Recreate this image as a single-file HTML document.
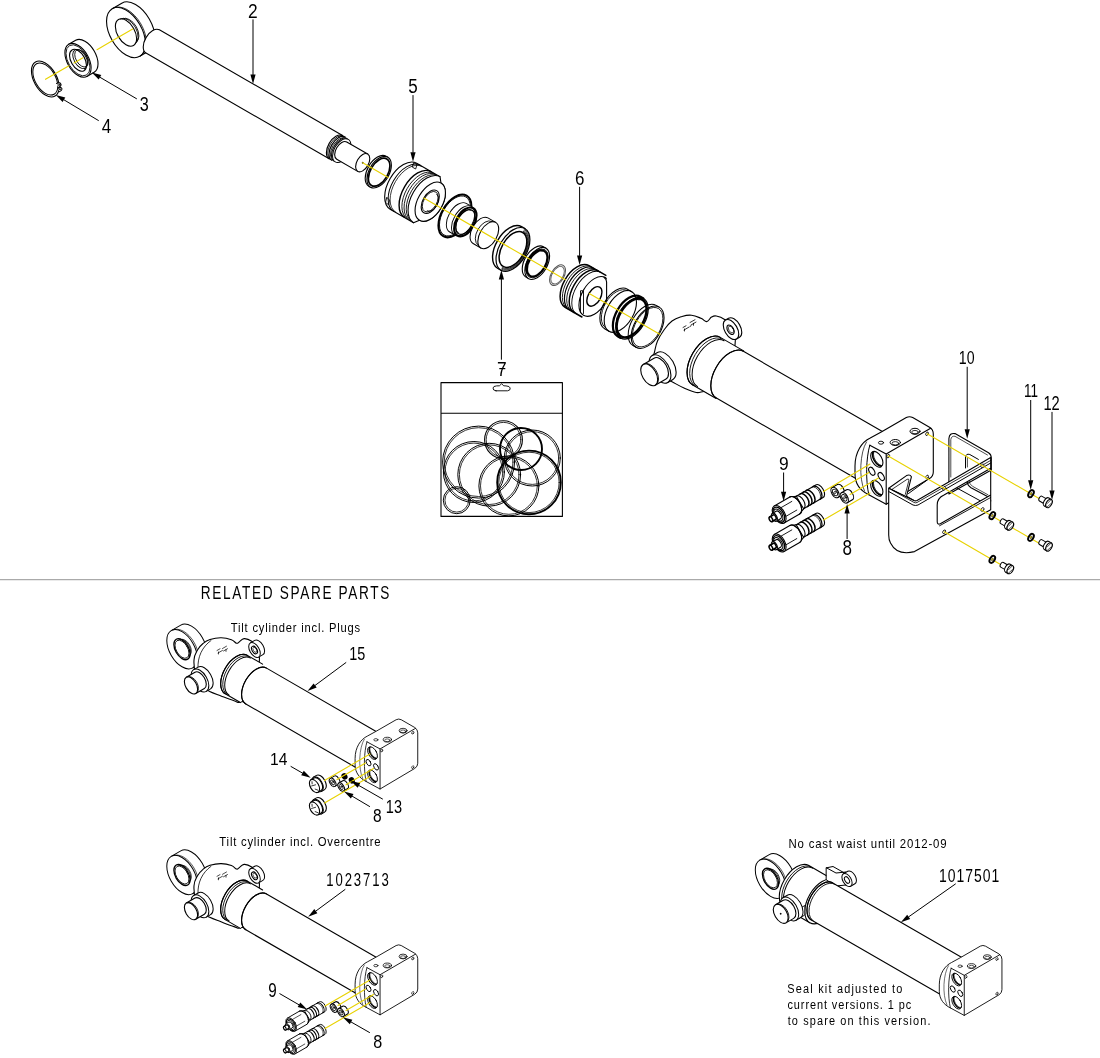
<!DOCTYPE html><html><head><meta charset="utf-8"><style>
html,body{margin:0;padding:0;background:#fff;overflow:hidden;}
svg{display:block;}
text{font-family:"Liberation Sans",sans-serif;fill:#000;}
svg{will-change:transform;}
</style></head><body>
<svg width="1100" height="1058" viewBox="0 0 1100 1058">
<rect width="1100" height="1058" fill="#fff"/>
<g stroke="#000" stroke-linejoin="round" stroke-linecap="round">
<line x1="0" y1="579.7" x2="1100" y2="579.7" stroke="#aaaaaa" stroke-width="1.3"/>
<g transform="translate(45.3 79) rotate(-30)">
<ellipse cx="0" cy="0" rx="11.3" ry="19.6" fill="none" stroke-width="1.1"/>
<ellipse cx="0" cy="0" rx="10.2" ry="17.6" fill="none" stroke-width="1.0"/>
<path d="M7.5 9.5Q11.5 9.5 11 12.5Q10 14.5 7 13.8" fill="#fff" stroke-width="1.0"/>
<circle cx="9" cy="11.8" r="0.9" fill="none" stroke-width="0.8"/>
<path d="M6.5 14.5Q10 14.5 9.5 17Q8.5 18.5 5.8 18" fill="#fff" stroke-width="1.0"/>
<circle cx="7.6" cy="16.2" r="0.9" fill="#000" stroke="none"/>
</g>
<g transform="translate(78 60.3) rotate(-30)">
<path d="M0 -18.5L8 -18.5A10.7 18.5 0 0 1 8 18.5L0 18.5Z" fill="#fff" stroke-width="1.1"/>
<ellipse cx="0" cy="0" rx="10.7" ry="18.5" fill="#fff" stroke-width="1.1"/>
<ellipse cx="0" cy="0" rx="9.8" ry="17" fill="none" stroke-width="0.8"/>
<ellipse cx="0" cy="0" rx="6.9" ry="12" fill="#fff" stroke-width="1.1"/>
<ellipse cx="2.5" cy="0" rx="6.1" ry="10.5" fill="none" stroke-width="0.9"/>
<ellipse cx="4" cy="0" rx="5.5" ry="9.5" fill="none" stroke-width="0.8"/>
</g>
<line x1="45.5" y1="79.3" x2="69" y2="65.8" stroke="#e8d200" stroke-width="1.1"/>
<line x1="74" y1="63" x2="83" y2="57.8" stroke="#e8d200" stroke-width="1.1"/>
<line x1="97" y1="49.7" x2="111" y2="41.6" stroke="#e8d200" stroke-width="1.1"/>
<g transform="translate(126 32.5) rotate(-30)">
<path d="M0 -27.5L11 -27.5A15.9 27.5 0 0 1 11 27.5L0 27.5Z" fill="#fff" stroke-width="1.1"/>
<ellipse cx="0" cy="0" rx="15.9" ry="27.5" fill="#fff" stroke-width="1.1"/>
<path d="M1.3 -27.3A15.9 27.3 0 0 1 1.3 27.3" fill="none" stroke-width="0.7"/>
<ellipse cx="0" cy="0" rx="8.7" ry="15" fill="#fff" stroke-width="1.1"/>
<path d="M2 -14.5A8.7 14.5 0 0 1 2 14.5" fill="none" stroke-width="0.8"/>
<path d="M4 -13.5A7.8 13.5 0 0 1 4 13.5" fill="none" stroke-width="0.8"/>
</g>
<g transform="translate(362.7 162.7) rotate(30)">
<path d="M-31 -13.4L-242.5 -13.4A7.7 13.4 0 0 0 -242.5 13.4L-31 13.4Z" fill="#fff" stroke="none"/>
<path d="M-31 -13.4L-242.5 -13.4A7.7 13.4 0 0 0 -242.5 13.4L-31 13.4" fill="none" stroke-width="1.1"/>
<path d="M-31 -13.4A7.7 13.4 0 0 0 -31 13.4" fill="none" stroke-width="1.1"/>
<path d="M-29.5 -13.6A7.8 13.6 0 0 0 -29.5 13.6" fill="none" stroke-width="0.8"/>
<path d="M-28 -13.4A7.7 13.4 0 0 0 -28 13.4" fill="none" stroke-width="1.2"/>
<path d="M-26.6 -13.1A7.6 13.1 0 0 0 -26.6 13.1" fill="none" stroke-width="0.8"/>
<path d="M-25.4 -13A7.5 13 0 0 0 -25.4 13" fill="none" stroke-width="1.0"/>
<ellipse cx="-24.2" cy="0" rx="7.5" ry="13" fill="#fff" stroke-width="1.0"/>
<path d="M0 -10L-24.2 -10A5.8 10 0 0 0 -24.2 10L0 10Z" fill="#fff" stroke-width="1.1"/>
<ellipse cx="0" cy="0" rx="5.8" ry="10" fill="#fff" stroke-width="1.1"/>
<circle cx="0" cy="0" r="0.9" fill="#000" stroke="none"/>
</g>
<line x1="111" y1="41.6" x2="132.7" y2="29.1" stroke="#e8d200" stroke-width="1.1"/>
<g transform="translate(362.7 162.7) rotate(30)">
<path d="M19 -17.3L17 -17.3A10 17.3 0 0 0 17 17.3L19 17.3Z" fill="#fff" stroke-width="1.1"/>
<ellipse cx="19" cy="0" rx="10" ry="17.3" fill="#fff" stroke-width="1.1"/>
<ellipse cx="19" cy="0" rx="8.8" ry="15.3" fill="none" stroke-width="1.7"/>
<path d="M74 -26.5L47 -26.5A15.3 26.5 0 0 0 47 26.5L74 26.5Z" fill="#fff" stroke="none"/>
<path d="M74 -26.5L47 -26.5A15.3 26.5 0 0 0 47 26.5L74 26.5" fill="none" stroke-width="1.1"/>
<path d="M44.5 -25.5L48 -25.5L49 -21L45.5 -21Z" fill="#fff" stroke-width="0.8"/>
<path d="M38.5 18L42 19L43.5 23.5L40 23Z" fill="#fff" stroke-width="0.8"/>
<path d="M51 -26.5A15.3 26.5 0 0 0 51 26.5" fill="none" stroke-width="1.0"/>
<path d="M53 -26.3A15.2 26.3 0 0 0 53 26.3" fill="none" stroke-width="0.7"/>
<path d="M63.5 -26.3A15.2 26.3 0 0 0 63.5 26.3" fill="none" stroke-width="1.4"/>
<path d="M66.5 -26.2A15.1 26.2 0 0 0 66.5 26.2" fill="none" stroke-width="0.8"/>
<path d="M69 -26.2A15.1 26.2 0 0 0 69 26.2" fill="none" stroke-width="0.8"/>
<path d="M71.5 -26.2A15.1 26.2 0 0 0 71.5 26.2" fill="none" stroke-width="0.8"/>
<path d="M74 -26.5L78 -21.5A12.4 21.5 0 0 1 78 21.5L74 26.5A15.3 26.5 0 0 1 74 -26.5Z" fill="#fff" stroke-width="1.1"/>
<ellipse cx="78" cy="0" rx="12.4" ry="21.5" fill="#fff" stroke-width="1.1"/>
<ellipse cx="78" cy="0" rx="7.4" ry="12.8" fill="#fff" stroke-width="1.1"/>
<ellipse cx="78" cy="0" rx="6.5" ry="11.2" fill="none" stroke-width="0.8"/>
<path d="M80 -9.5A5.5 9.5 0 0 1 80 9.5" fill="none" stroke-width="0.8"/>
</g>
<g transform="translate(362.7 162.7) rotate(30)">
<ellipse cx="106.5" cy="0" rx="13.5" ry="23.4" fill="none" stroke-width="2.0"/>
<ellipse cx="106.5" cy="0" rx="12.6" ry="21.9" fill="none" stroke-width="0.8"/>
<path d="M116 -16.5L110 -16.5A9.5 16.5 0 0 0 110 16.5L116 16.5Z" fill="#fff" stroke="none"/>
<path d="M116 -16.5L110 -16.5A9.5 16.5 0 0 0 110 16.5L116 16.5" fill="none" stroke-width="0.9"/>
<ellipse cx="116" cy="0" rx="9.5" ry="16.5" fill="#fff" stroke-width="0.9"/>
<ellipse cx="118.5" cy="0" rx="9.1" ry="15.8" fill="none" stroke-width="2.2"/>
<ellipse cx="118.5" cy="0" rx="7.8" ry="13.6" fill="none" stroke-width="1.2"/>
<path d="M118 -13A7.5 13 0 0 0 118 13" fill="none" stroke-width="0.7"/>
<path d="M145 -14.8L136 -14.8A8.5 14.8 0 0 0 136 14.8L145 14.8Z" fill="#fff" stroke="none"/>
<path d="M145 -14.8L136 -14.8A8.5 14.8 0 0 0 136 14.8L145 14.8" fill="none" stroke-width="1.0"/>
<ellipse cx="145" cy="0" rx="8.5" ry="14.8" fill="#fff" stroke-width="1.1"/>
<path d="M145 -13.6A7.8 13.6 0 0 0 145 13.6" fill="none" stroke-width="0.8" transform="translate(-4 0)"/>
<path d="M173.5 -24L169.5 -24A13.8 24 0 0 0 169.5 24L173.5 24Z" fill="#fff" stroke="none"/>
<path d="M173.5 -24L169.5 -24A13.8 24 0 0 0 169.5 24L173.5 24" fill="none" stroke-width="1.4"/>
<ellipse cx="173.5" cy="0" rx="13.8" ry="24" fill="#fff" stroke-width="1.2"/>
<path d="M173.5 -22.9A13.2 22.9 0 0 1 173.5 22.9" fill="none" stroke-width="0.7"/>
<path d="M173.5 -21.9A12.6 21.9 0 0 1 173.5 21.9" fill="none" stroke-width="0.7"/>
<path d="M173.5 -20.9A12.1 20.9 0 0 1 173.5 20.9" fill="none" stroke-width="0.7"/>
<ellipse cx="173.5" cy="0" rx="11.3" ry="19.6" fill="none" stroke-width="1.5"/>
<path d="M201.5 -17.5L198.5 -17.5A10.1 17.5 0 0 0 198.5 17.5L201.5 17.5Z" fill="#fff" stroke="none"/>
<path d="M201.5 -17.5L198.5 -17.5A10.1 17.5 0 0 0 198.5 17.5L201.5 17.5" fill="none" stroke-width="1.1"/>
<ellipse cx="201.5" cy="0" rx="10.1" ry="17.5" fill="#fff" stroke-width="1.1"/>
<ellipse cx="201.5" cy="0" rx="9.1" ry="15.8" fill="none" stroke-width="0.8"/>
<ellipse cx="201.5" cy="0" rx="8.3" ry="14.3" fill="#fff" stroke-width="2.0"/>
<path d="M199.5 -13.5A7.8 13.5 0 0 0 199.5 13.5" fill="none" stroke-width="1.6"/>
<ellipse cx="225" cy="0" rx="6.5" ry="11.3" fill="none" stroke="#555" stroke-width="1.0"/>
<ellipse cx="225" cy="0" rx="5.5" ry="9.6" fill="none" stroke="#555" stroke-width="0.9"/>
</g>
<g transform="translate(362.7 162.7) rotate(30)">
</g>
<clipPath id="p6clip"><rect x="540" y="250" width="66.8" height="80"/></clipPath>
<g clip-path="url(#p6clip)">
<g transform="translate(362.7 162.7) rotate(30)">
<path d="M267 -24L247.5 -24A13.8 24 0 0 0 247.5 24L267 24Z" fill="#fff" stroke="none"/>
<path d="M267 -24L247.5 -24A13.8 24 0 0 0 247.5 24L267 24" fill="none" stroke-width="1.5"/>
<path d="M250 -24A13.8 24 0 0 0 250 24" fill="none" stroke-width="0.8"/>
<path d="M252.5 -24A13.8 24 0 0 0 252.5 24" fill="none" stroke-width="1.2"/>
<path d="M255 -24A13.8 24 0 0 0 255 24" fill="none" stroke-width="0.8"/>
<path d="M258 -24A13.8 24 0 0 0 258 24" fill="none" stroke-width="1.5"/>
<path d="M261 -24A13.8 24 0 0 0 261 24" fill="none" stroke-width="0.9"/>
<ellipse cx="267.5" cy="0" rx="12.6" ry="21.8" fill="#fff" stroke-width="1.1"/>
<ellipse cx="267.5" cy="0" rx="6.2" ry="10.7" fill="#fff" stroke-width="1.4"/>
</g>
</g>
<path d="M604 277.2Q606.6 279 606.6 282L606.6 300" fill="none" stroke-width="1.1"/>
<path d="M580.5 291L580.5 312.5M583.5 291.5L583.5 313.5M580.5 291Q582 289.5 583.5 291.5" fill="none" stroke-width="0.9"/>
<g transform="translate(362.7 162.7) rotate(30)">
<path d="M297.5 -22.8L292.5 -22.8A13.2 22.8 0 0 0 292.5 22.8L297.5 22.8" fill="none" stroke-width="1.1"/>
<ellipse cx="297.5" cy="0" rx="13.2" ry="22.8" fill="none" stroke-width="1.1"/>
<path d="M293 -21.5A12.4 21.5 0 0 0 293 21.5" fill="none" stroke-width="0.8"/>
<path d="M311 -22.8L307.5 -22.8A13.2 22.8 0 0 0 307.5 22.8L311 22.8" fill="none" stroke-width="2.2"/>
<ellipse cx="311" cy="0" rx="13.2" ry="22.8" fill="none" stroke-width="1.3"/>
<ellipse cx="310.5" cy="0" rx="12.2" ry="21.2" fill="none" stroke-width="2.4"/>
<path d="M308 -19.5A11.2 19.5 0 0 0 308 19.5" fill="none" stroke-width="0.8"/>
<path d="M329 -23.2L325.5 -23.2A13.4 23.2 0 0 0 325.5 23.2L329 23.2" fill="none" stroke-width="1.0"/>
<ellipse cx="329" cy="0" rx="13.4" ry="23.2" fill="none" stroke-width="1.1"/>
<ellipse cx="329" cy="0" rx="12.5" ry="21.6" fill="none" stroke-width="0.8"/>
</g>
<path d="M652 362C650 357 653.1 357.4 654.2 353.2C655.3 349 655.5 345.6 657.5 341C659.5 336.4 661.1 334 664 330C666.9 326 668.4 323.7 672 321C675.6 318.3 678.1 317.7 682 316.5C685.9 315.3 687.7 314.8 691.5 315.2C695.3 315.6 697.9 317 701 318.3C704.1 319.6 704.7 321.8 706.8 321.6C708.9 321.4 709.6 318.2 711.5 317.1C713.4 316 713.7 315.5 716.3 316C718.9 316.5 721.3 317.1 724.6 319.5C727.9 321.9 730.9 322.9 733 328C735.1 333.1 736 333.6 735 345C734 356.4 732.6 375.2 728 385C723.4 394.8 716.7 392.7 712 394C707.3 395.3 707.7 391.8 704.5 391.5C701.3 391.2 700.3 393.2 696.2 392.5C692.1 391.8 688.8 390.1 684 388C679.2 385.9 676 383.8 672 381.8C668 379.8 668 382 664 378C660 374 654 367 652 362Z" fill="#fff" stroke-width="1.1"/>
<path d="M683 327.5l3 -1.7M684 330l5 -2.9M684.5 331l0 -2 M690 326.5l1 -0.6 M690 322.5l5 -2.8M691 325l5 -2.9M693.5 323.3l0 2" fill="none" stroke-width="0.8"/>
<g transform="translate(731 329.5) rotate(-30)">
<path d="M0 -11L3.5 -11A6.3 11 0 0 1 3.5 11L0 11Z" fill="#fff" stroke-width="1.1"/>
<ellipse cx="0" cy="0" rx="6.3" ry="11" fill="#fff" stroke-width="1.1"/>
<ellipse cx="-0.5" cy="0" rx="3" ry="5.2" fill="#fff" stroke-width="1.1"/>
<ellipse cx="0" cy="0" rx="2.2" ry="3.8" fill="none" stroke-width="0.7"/>
</g>
<g transform="translate(660 369) rotate(-30)">
<path d="M0 -15.5L6 -15.5A8.9 15.5 0 0 1 6 15.5L0 15.5Z" fill="#fff" stroke-width="1.1"/>
<ellipse cx="0" cy="0" rx="8.9" ry="15.5" fill="#fff" stroke-width="1.1"/>
</g>
<g transform="translate(649.2 374.8) rotate(-30)">
<path d="M0 -12L12.5 -12A6.9 12 0 0 1 12.5 12L0 12Z" fill="#fff" stroke-width="1.1"/>
<ellipse cx="0" cy="0" rx="6.9" ry="12" fill="#fff" stroke-width="1.1"/>
<path d="M1.3 -11.8A6.8 11.8 0 0 1 1.3 11.8" fill="none" stroke-width="0.8"/>
</g>
<g transform="translate(362.7 162.7) rotate(30)">
<path d="M424 -27.5L397 -27.5A15.9 27.5 0 0 0 397 27.5L424 27.5Z" fill="#fff" stroke="none"/>
<path d="M424 -27.5L397 -27.5A15.9 27.5 0 0 0 397 27.5L424 27.5" fill="none" stroke-width="1.1"/>
<path d="M397 -27.5A15.9 27.5 0 0 0 397 27.5" fill="none" stroke-width="1.1"/>
<path d="M399.5 -27A15.6 27 0 0 0 399.5 27" fill="none" stroke-width="0.8"/>
<path d="M402 -26.5A15.3 26.5 0 0 0 402 26.5" fill="none" stroke-width="1.0"/>
<path d="M592 -27L424 -27A15.6 27 0 0 0 424 27L592 27Z" fill="#fff" stroke="none"/>
<path d="M592 -27L424 -27A15.6 27 0 0 0 424 27L592 27" fill="none" stroke-width="1.1"/>
<path d="M424 -27A15.6 27 0 0 0 424 27" fill="none" stroke-width="1.0"/>
</g>
<g>
<path d="M881.7 431.8L906.3 417.6Q909.5 415.9 912.7 417.6L929.5 427.3Q933.3 429.5 933.3 434L933.3 472Q933.3 476.3 929.5 478.5L886.2 504.2L868.8 494.8C861 491 855 484 855 474L855 466C855 452 862 442 869.8 438.3Z" fill="#fff" stroke-width="1.1"/>
<path d="M869.8 445.2L886.2 454.1L930.6 428.3M886.2 454.1L886.2 504.2" fill="none" stroke-width="1.1"/>
<path d="M869.8 445.2C866 458 865.5 480 868.8 494.8" fill="none" stroke-width="1.0"/>
<path d="M866.5 442C860 452 858.5 478 864.5 491" fill="none" stroke-width="0.7"/>
<ellipse cx="876.8" cy="459.3" rx="5" ry="8.7" transform="rotate(-30 876.8 459.3)" fill="#fff" stroke-width="1.1"/>
<ellipse cx="876.8" cy="488.3" rx="5" ry="8.7" transform="rotate(-30 876.8 488.3)" fill="#fff" stroke-width="1.1"/>
<ellipse cx="871.8" cy="471.2" rx="2.5" ry="4.4" transform="rotate(-30 871.8 471.2)" fill="#fff" stroke-width="1.1"/>
<ellipse cx="881.2" cy="476.5" rx="2.5" ry="4.4" transform="rotate(-30 881.2 476.5)" fill="#fff" stroke-width="1.1"/>
<clipPath id="ph0"><ellipse cx="876.8" cy="459.3" rx="5" ry="8.7" transform="rotate(-30 876.8 459.3)"/></clipPath>
<g clip-path="url(#ph0)"><ellipse cx="878.6999999999999" cy="458.2" rx="5" ry="8.7" transform="rotate(-30 878.6999999999999 458.2)" fill="none" stroke-width="1.6"/><ellipse cx="879.5999999999999" cy="457.7" rx="5" ry="8.7" transform="rotate(-30 879.5999999999999 457.7)" fill="none" stroke-width="0.7"/></g>
<clipPath id="ph1"><ellipse cx="876.8" cy="488.3" rx="5" ry="8.7" transform="rotate(-30 876.8 488.3)"/></clipPath>
<g clip-path="url(#ph1)"><ellipse cx="878.6999999999999" cy="487.2" rx="5" ry="8.7" transform="rotate(-30 878.6999999999999 487.2)" fill="none" stroke-width="1.6"/><ellipse cx="879.5999999999999" cy="486.7" rx="5" ry="8.7" transform="rotate(-30 879.5999999999999 486.7)" fill="none" stroke-width="0.7"/></g>
<ellipse cx="881" cy="442.7" rx="2.6" ry="1.5" fill="#fff" stroke-width="0.9"/>
<ellipse cx="895.3" cy="442.5" rx="5.2" ry="3" fill="#fff" stroke-width="1.0"/><ellipse cx="895.3" cy="443.3" rx="3.4" ry="1.7" fill="none" stroke-width="0.8"/>
<ellipse cx="915" cy="431.3" rx="5.0" ry="3" fill="#fff" stroke-width="1.0"/><ellipse cx="915" cy="432.1" rx="3.3" ry="1.7" fill="none" stroke-width="0.8"/>
<ellipse cx="888.2" cy="456.1" rx="1.2" ry="1.9" transform="rotate(30 888.2 456.1)" fill="#fff" stroke-width="0.8"/>
<ellipse cx="927.1" cy="433.8" rx="1.2" ry="1.9" transform="rotate(30 927.1 433.8)" fill="#fff" stroke-width="0.8"/>
<ellipse cx="927.1" cy="476.9" rx="1.2" ry="1.9" transform="rotate(30 927.1 476.9)" fill="#fff" stroke-width="0.8"/>
</g>
<path d="M948.9 478L948.9 438.5Q949.5 432.5 955 433.6L988.5 452.8Q991.3 454.5 991.3 458L991.3 470L948.9 494Z" fill="#fff" stroke-width="1.1"/>
<path d="M950.8 477L950.8 439.5Q951.5 435.6 955 436.3L987.5 455" fill="none" stroke-width="0.7"/>
<path d="M965.5 468L965.5 457Q966 453.3 969.8 454.5L978.4 459.4" fill="none" stroke-width="1.0"/>
<path d="M967.4 467L967.4 457.5" fill="none" stroke-width="0.7"/>
<path d="M966.7 480.9Q967.5 485.5 971 487.7L987.5 496.5Q990.7 498.5 990.7 501" fill="none" stroke-width="1.1"/>
<path d="M968.8 480.3Q969.5 484.5 972.5 486.3L988 494.8" fill="none" stroke-width="0.7"/>
<path d="M956.3 487.7L982.1 501.8" fill="none" stroke-width="1.0"/>
<path d="M908.5 493.5L926.5 480.5" fill="none" stroke-width="1.0"/>
<path d="M888.7 488.3L906.5 475.6Q910 474 911.4 476.8L906.5 496.3L913.9 500.6Z" fill="#fff" stroke-width="1.1"/>
<path d="M891.8 489.5L907.1 479.3Q908.8 478.6 909 480L905.3 494.4" fill="none" stroke-width="0.8"/>
<path fill-rule="evenodd" d="M888.7 488.3L913.9 500.6Q915.5 501.2 917 500.5L990.7 457.6L990.7 509.8L914.5 551.6Q897 556 890.5 543Q888.7 540 888.7 535Z M944 495L990.7 468.3L990.7 495.1L940.3 523.8Q937.2 525 937.2 521.5L937.2 505Q937.2 498 944 495Z" fill="#fff" stroke-width="1.1"/>
<path d="M891.8 489.9L913.9 502.4Q915.5 503.2 917 502.5L990.7 460.4" fill="none" stroke-width="0.8"/>
<path d="M888.7 491.5L913 505Q915.5 506 918 505L990.7 463" fill="none" stroke-width="1.0"/>
<path d="M939.5 525.8L990.7 497.5" fill="none" stroke-width="0.9"/>
<ellipse cx="944.2" cy="488.4" rx="1.3" ry="2.0" transform="rotate(30 944.2 488.4)" fill="#fff" stroke-width="0.8"/>
<ellipse cx="982.5" cy="465.8" rx="1.3" ry="2.0" transform="rotate(30 982.5 465.8)" fill="#fff" stroke-width="0.8"/>
<ellipse cx="982.5" cy="509.5" rx="1.3" ry="2.0" transform="rotate(30 982.5 509.5)" fill="#fff" stroke-width="0.8"/>
<ellipse cx="944.2" cy="531.8" rx="1.3" ry="2.0" transform="rotate(30 944.2 531.8)" fill="#fff" stroke-width="0.8"/>
<line x1="927.1" y1="433.8" x2="1042.5" y2="500.5" stroke="#e8d200" stroke-width="1.1"/>
<line x1="888.2" y1="456.1" x2="1042.5" y2="545.2" stroke="#e8d200" stroke-width="1.1"/>
<line x1="944.2" y1="531.8" x2="1004" y2="566.4" stroke="#e8d200" stroke-width="1.1"/>
<ellipse cx="1031" cy="493.7" rx="2.3" ry="3.9" transform="rotate(30 1031 493.7)" fill="#fff" stroke-width="1.9"/>
<ellipse cx="1031" cy="493.7" rx="0.9" ry="1.5" transform="rotate(30 1031 493.7)" fill="#e8d200" stroke="#333" stroke-width="0.5"/>
<g transform="translate(1049 503.4) rotate(30)">
<path d="M-2.5 -2.7L-9.5 -2.7A1.6 2.7 0 0 0 -9.5 2.7L-2.5 2.7Z" fill="#fff" stroke="none"/>
<path d="M-2.5 -2.7L-9.5 -2.7A1.6 2.7 0 0 0 -9.5 2.7L-2.5 2.7" fill="none" stroke-width="1.0"/>
<path d="M-2.5 -2.7L-2.5 2.7" fill="none" stroke-width="0.8"/>
<path d="M0 -4.6L-2.8 -4.6A2.7 4.6 0 0 0 -2.8 4.6L0 4.6Z" fill="#fff" stroke-width="1.1"/>
<ellipse cx="0" cy="0" rx="2.7" ry="4.6" fill="#fff" stroke-width="1.1"/>
<path d="M0 -4.6L-1.5 1M0 4.6L1.8 -1" fill="none" stroke-width="0.6"/>
</g>
<ellipse cx="992.3" cy="515.6" rx="2.3" ry="3.9" transform="rotate(30 992.3 515.6)" fill="#fff" stroke-width="1.9"/>
<ellipse cx="992.3" cy="515.6" rx="0.9" ry="1.5" transform="rotate(30 992.3 515.6)" fill="#e8d200" stroke="#333" stroke-width="0.5"/>
<g transform="translate(1010.3 526.1) rotate(30)">
<path d="M-2.5 -2.7L-9.5 -2.7A1.6 2.7 0 0 0 -9.5 2.7L-2.5 2.7Z" fill="#fff" stroke="none"/>
<path d="M-2.5 -2.7L-9.5 -2.7A1.6 2.7 0 0 0 -9.5 2.7L-2.5 2.7" fill="none" stroke-width="1.0"/>
<path d="M-2.5 -2.7L-2.5 2.7" fill="none" stroke-width="0.8"/>
<path d="M0 -4.6L-2.8 -4.6A2.7 4.6 0 0 0 -2.8 4.6L0 4.6Z" fill="#fff" stroke-width="1.1"/>
<ellipse cx="0" cy="0" rx="2.7" ry="4.6" fill="#fff" stroke-width="1.1"/>
<path d="M0 -4.6L-1.5 1M0 4.6L1.8 -1" fill="none" stroke-width="0.6"/>
</g>
<ellipse cx="1031" cy="537.4" rx="2.3" ry="3.9" transform="rotate(30 1031 537.4)" fill="#fff" stroke-width="1.9"/>
<ellipse cx="1031" cy="537.4" rx="0.9" ry="1.5" transform="rotate(30 1031 537.4)" fill="#e8d200" stroke="#333" stroke-width="0.5"/>
<g transform="translate(1049 546.9) rotate(30)">
<path d="M-2.5 -2.7L-9.5 -2.7A1.6 2.7 0 0 0 -9.5 2.7L-2.5 2.7Z" fill="#fff" stroke="none"/>
<path d="M-2.5 -2.7L-9.5 -2.7A1.6 2.7 0 0 0 -9.5 2.7L-2.5 2.7" fill="none" stroke-width="1.0"/>
<path d="M-2.5 -2.7L-2.5 2.7" fill="none" stroke-width="0.8"/>
<path d="M0 -4.6L-2.8 -4.6A2.7 4.6 0 0 0 -2.8 4.6L0 4.6Z" fill="#fff" stroke-width="1.1"/>
<ellipse cx="0" cy="0" rx="2.7" ry="4.6" fill="#fff" stroke-width="1.1"/>
<path d="M0 -4.6L-1.5 1M0 4.6L1.8 -1" fill="none" stroke-width="0.6"/>
</g>
<ellipse cx="992.3" cy="559.4" rx="2.3" ry="3.9" transform="rotate(30 992.3 559.4)" fill="#fff" stroke-width="1.9"/>
<ellipse cx="992.3" cy="559.4" rx="0.9" ry="1.5" transform="rotate(30 992.3 559.4)" fill="#e8d200" stroke="#333" stroke-width="0.5"/>
<g transform="translate(1010.3 569.6) rotate(30)">
<path d="M-2.5 -2.7L-9.5 -2.7A1.6 2.7 0 0 0 -9.5 2.7L-2.5 2.7Z" fill="#fff" stroke="none"/>
<path d="M-2.5 -2.7L-9.5 -2.7A1.6 2.7 0 0 0 -9.5 2.7L-2.5 2.7" fill="none" stroke-width="1.0"/>
<path d="M-2.5 -2.7L-2.5 2.7" fill="none" stroke-width="0.8"/>
<path d="M0 -4.6L-2.8 -4.6A2.7 4.6 0 0 0 -2.8 4.6L0 4.6Z" fill="#fff" stroke-width="1.1"/>
<ellipse cx="0" cy="0" rx="2.7" ry="4.6" fill="#fff" stroke-width="1.1"/>
<path d="M0 -4.6L-1.5 1M0 4.6L1.8 -1" fill="none" stroke-width="0.6"/>
</g>
<g transform="translate(770.5 519.5) rotate(-30)">
<path d="M33 -7.3L56.5 -7.3A4.2 7.3 0 0 1 56.5 7.3L33 7.3Z" fill="#fff" stroke="none"/>
<path d="M33 -7.3L56.5 -7.3A4.2 7.3 0 0 1 56.5 7.3L33 7.3" fill="none" stroke-width="1.1"/>
<path d="M53.5 -7.3A4.2 7.3 0 0 1 53.5 7.3" fill="none" stroke-width="1.3"/>
<path d="M52 -7.3A4.2 7.3 0 0 1 52 7.3" fill="none" stroke-width="0.7"/>
<path d="M45.5 -7.3A4.2 7.3 0 0 1 45.5 7.3" fill="none" stroke-width="1.5"/>
<path d="M42 -7.3A4.2 7.3 0 0 1 42 7.3" fill="none" stroke-width="1.5"/>
<path d="M38.5 -7.3A4.2 7.3 0 0 1 38.5 7.3" fill="none" stroke-width="1.5"/>
<path d="M28 -9.8L34 -7.3L34 7.3L28 9.8Z" fill="#fff" stroke-width="1.0"/>
<path d="M34 -7.3A4.2 7.3 0 0 1 34 7.3" fill="none" stroke-width="1.1"/>
<path d="M10 -9.8L28 -9.8A5.7 9.8 0 0 1 28 9.8L10 9.8Z" fill="#fff" stroke="none"/>
<path d="M10 -9.8L28 -9.8A5.7 9.8 0 0 1 28 9.8L10 9.8" fill="none" stroke-width="1.1"/>
<path d="M10 -5L27.5 -5M10 5L27.5 5" fill="none" stroke-width="0.8"/>
<path d="M28 -9.8A5.7 9.8 0 0 1 28 9.8" fill="none" stroke-width="1.0"/>
<ellipse cx="10" cy="0" rx="5.7" ry="9.8" fill="#fff" stroke-width="1.1"/>
<ellipse cx="9.6" cy="0" rx="4.8" ry="8.3" fill="none" stroke-width="1.4"/>
<ellipse cx="9" cy="0" rx="3.8" ry="6.6" fill="#fff" stroke-width="1.0"/>
<path d="M4.5 -4.4L9 -4.4A2.5 4.4 0 0 1 9 4.4L4.5 4.4Z" fill="#fff" stroke-width="1.1"/>
<ellipse cx="4.5" cy="0" rx="2.5" ry="4.4" fill="#fff" stroke-width="1.1"/>
<path d="M4.5 -2.2L4.5 2.2" fill="none" stroke-width="0.6"/>
<path d="M0.5 -2.6L4.5 -2.6A1.5 2.6 0 0 1 4.5 2.6L0.5 2.6Z" fill="#fff" stroke-width="1.5"/>
<ellipse cx="0.5" cy="0" rx="1.5" ry="2.6" fill="#fff" stroke-width="1.5"/>
</g>
<g transform="translate(770.5 548) rotate(-30)">
<path d="M33 -7.3L56.5 -7.3A4.2 7.3 0 0 1 56.5 7.3L33 7.3Z" fill="#fff" stroke="none"/>
<path d="M33 -7.3L56.5 -7.3A4.2 7.3 0 0 1 56.5 7.3L33 7.3" fill="none" stroke-width="1.1"/>
<path d="M53.5 -7.3A4.2 7.3 0 0 1 53.5 7.3" fill="none" stroke-width="1.3"/>
<path d="M52 -7.3A4.2 7.3 0 0 1 52 7.3" fill="none" stroke-width="0.7"/>
<path d="M45.5 -7.3A4.2 7.3 0 0 1 45.5 7.3" fill="none" stroke-width="1.5"/>
<path d="M42 -7.3A4.2 7.3 0 0 1 42 7.3" fill="none" stroke-width="1.5"/>
<path d="M38.5 -7.3A4.2 7.3 0 0 1 38.5 7.3" fill="none" stroke-width="1.5"/>
<path d="M28 -9.8L34 -7.3L34 7.3L28 9.8Z" fill="#fff" stroke-width="1.0"/>
<path d="M34 -7.3A4.2 7.3 0 0 1 34 7.3" fill="none" stroke-width="1.1"/>
<path d="M10 -9.8L28 -9.8A5.7 9.8 0 0 1 28 9.8L10 9.8Z" fill="#fff" stroke="none"/>
<path d="M10 -9.8L28 -9.8A5.7 9.8 0 0 1 28 9.8L10 9.8" fill="none" stroke-width="1.1"/>
<path d="M10 -5L27.5 -5M10 5L27.5 5" fill="none" stroke-width="0.8"/>
<path d="M28 -9.8A5.7 9.8 0 0 1 28 9.8" fill="none" stroke-width="1.0"/>
<ellipse cx="10" cy="0" rx="5.7" ry="9.8" fill="#fff" stroke-width="1.1"/>
<ellipse cx="9.6" cy="0" rx="4.8" ry="8.3" fill="none" stroke-width="1.4"/>
<ellipse cx="9" cy="0" rx="3.8" ry="6.6" fill="#fff" stroke-width="1.0"/>
<path d="M4.5 -4.4L9 -4.4A2.5 4.4 0 0 1 9 4.4L4.5 4.4Z" fill="#fff" stroke-width="1.1"/>
<ellipse cx="4.5" cy="0" rx="2.5" ry="4.4" fill="#fff" stroke-width="1.1"/>
<path d="M4.5 -2.2L4.5 2.2" fill="none" stroke-width="0.6"/>
<path d="M0.5 -2.6L4.5 -2.6A1.5 2.6 0 0 1 4.5 2.6L0.5 2.6Z" fill="#fff" stroke-width="1.5"/>
<ellipse cx="0.5" cy="0" rx="1.5" ry="2.6" fill="#fff" stroke-width="1.5"/>
</g>
<g transform="translate(835 492.5) rotate(-30)">
<path d="M0 -5.8L6 -5.8A3.3 5.8 0 0 1 6 5.8L0 5.8Z" fill="#fff" stroke-width="1.1"/>
<ellipse cx="0" cy="0" rx="3.3" ry="5.8" fill="#fff" stroke-width="1.1"/>
<ellipse cx="0" cy="0" rx="2.1" ry="3.6" fill="none" stroke-width="0.9"/>
<circle cx="0" cy="0" r="1.1" fill="none" stroke-width="0.7"/>
</g>
<g transform="translate(844.3 497.8) rotate(-30)">
<path d="M0 -5.8L6 -5.8A3.3 5.8 0 0 1 6 5.8L0 5.8Z" fill="#fff" stroke-width="1.1"/>
<ellipse cx="0" cy="0" rx="3.3" ry="5.8" fill="#fff" stroke-width="1.1"/>
<ellipse cx="0" cy="0" rx="2.1" ry="3.6" fill="none" stroke-width="0.9"/>
<circle cx="0" cy="0" r="1.1" fill="none" stroke-width="0.7"/>
</g>
<line x1="823.5" y1="491.5" x2="870" y2="464" stroke="#e8d200" stroke-width="1.1"/>
<line x1="840.5" y1="489" x2="869" y2="472.5" stroke="#e8d200" stroke-width="1.1"/>
<line x1="850" y1="494.5" x2="878.5" y2="478" stroke="#e8d200" stroke-width="1.1"/>
<line x1="823.5" y1="520" x2="870" y2="493" stroke="#e8d200" stroke-width="1.1"/>
<g transform="translate(362.7 162.7) rotate(30)">
<line x1="0" y1="0" x2="29.5" y2="0" stroke="#e8d200" stroke-width="1.1"/>
<line x1="70.5" y1="0" x2="234" y2="0" stroke="#e8d200" stroke-width="1.1"/>
<line x1="261.6" y1="0" x2="343.5" y2="0" stroke="#e8d200" stroke-width="1.1"/>
</g>
<rect x="441" y="382.6" width="121.4" height="133.8" fill="#fff" stroke-width="1.1"/>
<line x1="441.5" y1="413.3" x2="562" y2="413.3" stroke="#000" stroke-width="1.1"/>
<path d="M496 390.8L507.5 390.8Q510.5 390.6 510.2 388Q509.8 386.1 506 385.9L503.8 385.8L501.6 383.8L499.4 385.8L496.5 385.9Q493.2 386.1 493 388Q492.8 390.6 496 390.8Z" fill="none" stroke-width="0.9"/>
<circle cx="456.8" cy="500.2" r="13.5" fill="none" stroke-width="1.0"/>
<circle cx="456.8" cy="500.2" r="11.9" fill="none" stroke-width="0.8"/>
<circle cx="478.6" cy="462.1" r="36" fill="none" stroke-width="1.0"/>
<circle cx="478.6" cy="462.1" r="34.4" fill="none" stroke-width="0.8"/>
<circle cx="473.9" cy="472" r="30.5" fill="none" stroke-width="1.0"/>
<circle cx="473.9" cy="472" r="28.9" fill="none" stroke-width="0.8"/>
<circle cx="489.2" cy="474.7" r="31.4" fill="none" stroke-width="1.0"/>
<circle cx="489.2" cy="474.7" r="29.799999999999997" fill="none" stroke-width="0.8"/>
<circle cx="508.9" cy="485.9" r="30" fill="none" stroke-width="1.0"/>
<circle cx="508.9" cy="485.9" r="28.4" fill="none" stroke-width="0.8"/>
<circle cx="532.3" cy="458" r="28" fill="none" stroke-width="1.0"/>
<circle cx="532.3" cy="458" r="26.4" fill="none" stroke-width="0.8"/>
<circle cx="503.5" cy="439.7" r="18.9" fill="none" stroke-width="1.1"/>
<circle cx="503.5" cy="439.7" r="17.299999999999997" fill="none" stroke-width="0.8"/>
<circle cx="521" cy="449" r="21" fill="none" stroke-width="1.9"/>
<circle cx="529" cy="482.4" r="31.8" fill="none" stroke-width="1.9"/>
<circle cx="529" cy="482.4" r="30.2" fill="none" stroke-width="0.8"/>
</g>
<g>
<text transform="translate(248.03 18.00) scale(0.1739 0.2100)" font-size="100">2</text>
<text transform="translate(139.75 110.70) scale(0.1617 0.2029)" font-size="100">3</text>
<text transform="translate(101.86 133.10) scale(0.1706 0.1943)" font-size="100">4</text>
<text transform="translate(408.22 93.20) scale(0.1702 0.2029)" font-size="100">5</text>
<text transform="translate(574.95 185.00) scale(0.1696 0.2086)" font-size="100">6</text>
<text transform="translate(496.93 375.80) scale(0.1739 0.1971)" font-size="100">7</text>
<line x1="499.3" y1="368.6" x2="505.3" y2="368.6" stroke="#000" stroke-width="1.2"/>
<text transform="translate(958.87 363.80) scale(0.1414 0.1829)" font-size="100">10</text>
<text transform="translate(1023.92 397.00) scale(0.1352 0.1829)" font-size="100">11</text>
<text transform="translate(1043.42 409.70) scale(0.1469 0.1943)" font-size="100">12</text>
<text transform="translate(778.93 470.00) scale(0.1739 0.1857)" font-size="100">9</text>
<text transform="translate(842.62 555.10) scale(0.1702 0.2186)" font-size="100">8</text>
<text transform="translate(200.71 599.40) scale(0.1364 0.1843)" font-size="100" letter-spacing="12.17">RELATED SPARE PARTS</text>
<text transform="translate(230.78 631.90) scale(0.1117 0.1314)" font-size="100" letter-spacing="7.24">Tilt cylinder incl. Plugs</text>
<text transform="translate(349.24 660.00) scale(0.1444 0.1829)" font-size="100">15</text>
<text transform="translate(270.05 765.00) scale(0.1560 0.1729)" font-size="100">14</text>
<text transform="translate(385.84 812.60) scale(0.1455 0.1843)" font-size="100">13</text>
<text transform="translate(373.08 821.70) scale(0.1553 0.1843)" font-size="100">8</text>
<text transform="translate(219.37 846.00) scale(0.1129 0.1329)" font-size="100" letter-spacing="6.81">Tilt cylinder incl. Overcentre</text>
<text transform="translate(326.25 885.50) scale(0.1311 0.1771)" font-size="100" letter-spacing="14.60">1023713</text>
<text transform="translate(268.24 996.90) scale(0.1522 0.2000)" font-size="100">9</text>
<text transform="translate(373.35 1047.80) scale(0.1617 0.1814)" font-size="100">8</text>
<text transform="translate(788.49 847.80) scale(0.1141 0.1343)" font-size="100" letter-spacing="7.14">No cast waist until 2012-09</text>
<text transform="translate(938.88 881.90) scale(0.1395 0.1886)" font-size="100" letter-spacing="7.20">1017501</text>
<text transform="translate(787.35 992.90) scale(0.1093 0.1286)" font-size="100" letter-spacing="10.90">Seal kit adjusted to</text>
<text transform="translate(787.46 1009.00) scale(0.1093 0.1286)" font-size="100" letter-spacing="8.40">current versions. 1 pc</text>
<text transform="translate(787.68 1025.30) scale(0.1093 0.1286)" font-size="100" letter-spacing="10.27">to spare on this version.</text>
</g>
<g stroke="#000" stroke-linejoin="round" stroke-linecap="round">
<line x1="253" y1="19.8" x2="253" y2="74.6" stroke="#000" stroke-width="1"/>
<path d="M253 84.1L250.4 74.6L255.6 74.6Z" fill="#000" stroke="none"/>
<line x1="136.5" y1="98.7" x2="100" y2="77.3" stroke="#000" stroke-width="1"/>
<path d="M91.8 72.5L101.3 75.1L98.7 79.5Z" fill="#000" stroke="none"/>
<line x1="98.4" y1="120.5" x2="63.9" y2="99.8" stroke="#000" stroke-width="1"/>
<path d="M55.8 94.9L65.3 97.6L62.6 102Z" fill="#000" stroke="none"/>
<line x1="413" y1="95.5" x2="413" y2="152.2" stroke="#000" stroke-width="1"/>
<path d="M413 161.7L410.4 152.2L415.6 152.2Z" fill="#000" stroke="none"/>
<line x1="579.6" y1="187.2" x2="579.6" y2="255.5" stroke="#000" stroke-width="1"/>
<path d="M579.6 265L577 255.5L582.2 255.5Z" fill="#000" stroke="none"/>
<line x1="501.4" y1="359.3" x2="501.4" y2="279.4" stroke="#000" stroke-width="1"/>
<path d="M501.4 269.9L504 279.4L498.8 279.4Z" fill="#000" stroke="none"/>
<line x1="967.2" y1="367.2" x2="967.2" y2="429.2" stroke="#000" stroke-width="1"/>
<path d="M967.2 438.7L964.6 429.2L969.8 429.2Z" fill="#000" stroke="none"/>
<line x1="1030.7" y1="400.4" x2="1030.7" y2="480.2" stroke="#000" stroke-width="1"/>
<path d="M1030.7 489.7L1028.1 480.2L1033.3 480.2Z" fill="#000" stroke="none"/>
<line x1="1052" y1="412.3" x2="1052" y2="490.4" stroke="#000" stroke-width="1"/>
<path d="M1052 499.9L1049.4 490.4L1054.6 490.4Z" fill="#000" stroke="none"/>
<line x1="783.6" y1="472.9" x2="783.6" y2="491.7" stroke="#000" stroke-width="1"/>
<path d="M783.6 501.2L781 491.7L786.2 491.7Z" fill="#000" stroke="none"/>
<line x1="847.1" y1="538.6" x2="847.1" y2="513.5" stroke="#000" stroke-width="1"/>
<path d="M847.1 504L849.7 513.5L844.5 513.5Z" fill="#000" stroke="none"/>
<g transform="translate(0 0)">
<g transform="translate(182 649.2) rotate(-30)">
<path d="M0 -21.5L11 -21.5A12.4 21.5 0 0 1 11 21.5L0 21.5Z" fill="#fff" stroke-width="1.0"/>
<ellipse cx="0" cy="0" rx="12.4" ry="21.5" fill="#fff" stroke-width="1.0"/>
<path d="M1.5 -21.2A12.4 21.2 0 0 1 1.5 21.2" fill="none" stroke-width="0.6"/>
<ellipse cx="0" cy="0" rx="6.6" ry="11.5" fill="#fff" stroke-width="1.3"/>
<ellipse cx="0" cy="0" rx="5.7" ry="9.9" fill="none" stroke-width="0.8"/>
<path d="M2 -10.0A5.8 10.0 0 0 1 2 10.0" fill="none" stroke-width="0.7"/>
<path d="M3.5 -9.0A5.2 9.0 0 0 1 3.5 9.0" fill="none" stroke-width="0.7"/>
</g>
<path d="M196 676C194.4 670.6 193.7 665.2 194 660C194.3 654.8 195.7 653.3 197.5 650C199.3 646.7 200.5 645.6 203 643.5C205.5 641.4 206.4 640.6 210 639.5C213.6 638.4 216.9 637.7 221.2 637.8C225.5 637.9 228.3 638.7 231.4 639.8C234.5 640.9 234.9 642.8 236.5 643.2C238.1 643.6 237.7 642.9 239.2 642C240.7 641.1 241.6 638.8 244.1 638.6C246.6 638.4 248.9 639.3 251.7 641.2C254.5 643.1 256.5 643.2 258 648C259.5 652.8 260.2 655.6 259 665C257.8 674.4 255.6 687.6 252 695C248.4 702.4 244.6 700.8 241 702C237.4 703.2 238 702 234 700.8C230 699.6 225.9 697.9 221 696C216.1 694.1 213.5 693.3 209.7 691.5C205.9 689.7 204.7 690.1 202 687C199.3 683.9 197.6 681.4 196 676Z" fill="#fff" stroke-width="1.1"/>
<path d="M198 668C197.5 657 202 647 211 640.5" fill="none" stroke-width="0.8"/>
<path d="M217 650.5l3 -1.7M218 653l4.5 -2.6M218.5 654l0 -2 M222.5 648.5l4 -2.3M223.5 651l4 -2.3M226 649.6l0 1.8" fill="none" stroke-width="0.7"/>
<g transform="translate(254.5 650) rotate(-30)">
<path d="M0 -8.2L5 -8.2A4.7 8.2 0 0 1 5 8.2L0 8.2Z" fill="#fff" stroke-width="1.0"/>
<ellipse cx="0" cy="0" rx="4.7" ry="8.2" fill="#fff" stroke-width="1.0"/>
<ellipse cx="0" cy="0" rx="2.4" ry="4.2" fill="#fff" stroke-width="1.1"/>
<ellipse cx="0.5" cy="0" rx="1.6" ry="2.8" fill="none" stroke-width="0.6"/>
</g>
<g transform="translate(200 680.5) rotate(-30)">
<path d="M0 -12.5L5 -12.5A7.2 12.5 0 0 1 5 12.5L0 12.5Z" fill="#fff" stroke-width="1.0"/>
<ellipse cx="0" cy="0" rx="7.2" ry="12.5" fill="#fff" stroke-width="1.0"/>
</g>
<g transform="translate(191 685.4) rotate(-30)">
<path d="M0 -9.4L10 -9.4A5.4 9.4 0 0 1 10 9.4L0 9.4Z" fill="#fff" stroke-width="1.1"/>
<ellipse cx="0" cy="0" rx="5.4" ry="9.4" fill="#fff" stroke-width="1.1"/>
<path d="M1.2 -9.2A5.3 9.2 0 0 1 1.2 9.2" fill="none" stroke-width="0.8"/>
</g>
<g transform="translate(300 711.35) rotate(30)">
<path d="M-56 -22.2L-73.5 -22.2A12.8 22.2 0 0 0 -73.5 22.2L-56 22.2Z" fill="#fff" stroke="none"/>
<path d="M-56 -22.2L-73.5 -22.2A12.8 22.2 0 0 0 -73.5 22.2L-56 22.2" fill="none" stroke-width="1.1"/>
<path d="M-73.5 -22.2A12.8 22.2 0 0 0 -73.5 22.2" fill="none" stroke-width="1.1"/>
<path d="M-71.5 -21.8A12.6 21.8 0 0 0 -71.5 21.8" fill="none" stroke-width="0.8"/>
<path d="M-69.5 -21.4A12.3 21.4 0 0 0 -69.5 21.4" fill="none" stroke-width="1.0"/>
<path d="M85 -20.7L-50.6 -20.7A11.9 20.7 0 0 0 -50.6 20.7L85 20.7Z" fill="#fff" stroke="none"/>
<path d="M85 -20.7L-50.6 -20.7A11.9 20.7 0 0 0 -50.6 20.7L85 20.7" fill="none" stroke-width="1.1"/>
<path d="M-50.6 -20.7A11.9 20.7 0 0 0 -50.6 20.7" fill="none" stroke-width="1.0"/>
</g>
<g transform="translate(398.7 719.1) scale(0.8) translate(-909.5 -416.8)">
<path d="M881.7 431.8L906.3 417.6Q909.5 415.9 912.7 417.6L929.5 427.3Q933.3 429.5 933.3 434L933.3 472Q933.3 476.3 929.5 478.5L886.2 504.2L868.8 494.8C861 491 855 484 855 474L855 466C855 452 862 442 869.8 438.3Z" fill="#fff" stroke-width="1.1"/>
<path d="M869.8 445.2L886.2 454.1L930.6 428.3M886.2 454.1L886.2 504.2" fill="none" stroke-width="1.1"/>
<path d="M869.8 445.2C866 458 865.5 480 868.8 494.8" fill="none" stroke-width="1.0"/>
<path d="M866.5 442C860 452 858.5 478 864.5 491" fill="none" stroke-width="0.7"/>
<ellipse cx="876.8" cy="459.3" rx="5" ry="8.7" transform="rotate(-30 876.8 459.3)" fill="#fff" stroke-width="1.1"/>
<ellipse cx="876.8" cy="488.3" rx="5" ry="8.7" transform="rotate(-30 876.8 488.3)" fill="#fff" stroke-width="1.1"/>
<ellipse cx="871.8" cy="471.2" rx="2.5" ry="4.4" transform="rotate(-30 871.8 471.2)" fill="#fff" stroke-width="1.1"/>
<ellipse cx="881.2" cy="476.5" rx="2.5" ry="4.4" transform="rotate(-30 881.2 476.5)" fill="#fff" stroke-width="1.1"/>

<g clip-path="url(#ph0)"><ellipse cx="878.6999999999999" cy="458.2" rx="5" ry="8.7" transform="rotate(-30 878.6999999999999 458.2)" fill="none" stroke-width="1.6"/><ellipse cx="879.5999999999999" cy="457.7" rx="5" ry="8.7" transform="rotate(-30 879.5999999999999 457.7)" fill="none" stroke-width="0.7"/></g>

<g clip-path="url(#ph1)"><ellipse cx="878.6999999999999" cy="487.2" rx="5" ry="8.7" transform="rotate(-30 878.6999999999999 487.2)" fill="none" stroke-width="1.6"/><ellipse cx="879.5999999999999" cy="486.7" rx="5" ry="8.7" transform="rotate(-30 879.5999999999999 486.7)" fill="none" stroke-width="0.7"/></g>
<ellipse cx="881" cy="442.7" rx="2.6" ry="1.5" fill="#fff" stroke-width="0.9"/>
<ellipse cx="895.3" cy="442.5" rx="5.2" ry="3" fill="#fff" stroke-width="1.0"/><ellipse cx="895.3" cy="443.3" rx="3.4" ry="1.7" fill="none" stroke-width="0.8"/>
<ellipse cx="915" cy="431.3" rx="5.0" ry="3" fill="#fff" stroke-width="1.0"/><ellipse cx="915" cy="432.1" rx="3.3" ry="1.7" fill="none" stroke-width="0.8"/>
<ellipse cx="888.2" cy="456.1" rx="1.2" ry="1.9" transform="rotate(30 888.2 456.1)" fill="#fff" stroke-width="0.8"/>
<ellipse cx="927.1" cy="433.8" rx="1.2" ry="1.9" transform="rotate(30 927.1 433.8)" fill="#fff" stroke-width="0.8"/>
<ellipse cx="927.1" cy="476.9" rx="1.2" ry="1.9" transform="rotate(30 927.1 476.9)" fill="#fff" stroke-width="0.8"/>
</g>
</g>
<g transform="translate(0 225.8)">
<g transform="translate(182 649.2) rotate(-30)">
<path d="M0 -21.5L11 -21.5A12.4 21.5 0 0 1 11 21.5L0 21.5Z" fill="#fff" stroke-width="1.0"/>
<ellipse cx="0" cy="0" rx="12.4" ry="21.5" fill="#fff" stroke-width="1.0"/>
<path d="M1.5 -21.2A12.4 21.2 0 0 1 1.5 21.2" fill="none" stroke-width="0.6"/>
<ellipse cx="0" cy="0" rx="6.6" ry="11.5" fill="#fff" stroke-width="1.3"/>
<ellipse cx="0" cy="0" rx="5.7" ry="9.9" fill="none" stroke-width="0.8"/>
<path d="M2 -10.0A5.8 10.0 0 0 1 2 10.0" fill="none" stroke-width="0.7"/>
<path d="M3.5 -9.0A5.2 9.0 0 0 1 3.5 9.0" fill="none" stroke-width="0.7"/>
</g>
<path d="M196 676C194.4 670.6 193.7 665.2 194 660C194.3 654.8 195.7 653.3 197.5 650C199.3 646.7 200.5 645.6 203 643.5C205.5 641.4 206.4 640.6 210 639.5C213.6 638.4 216.9 637.7 221.2 637.8C225.5 637.9 228.3 638.7 231.4 639.8C234.5 640.9 234.9 642.8 236.5 643.2C238.1 643.6 237.7 642.9 239.2 642C240.7 641.1 241.6 638.8 244.1 638.6C246.6 638.4 248.9 639.3 251.7 641.2C254.5 643.1 256.5 643.2 258 648C259.5 652.8 260.2 655.6 259 665C257.8 674.4 255.6 687.6 252 695C248.4 702.4 244.6 700.8 241 702C237.4 703.2 238 702 234 700.8C230 699.6 225.9 697.9 221 696C216.1 694.1 213.5 693.3 209.7 691.5C205.9 689.7 204.7 690.1 202 687C199.3 683.9 197.6 681.4 196 676Z" fill="#fff" stroke-width="1.1"/>
<path d="M198 668C197.5 657 202 647 211 640.5" fill="none" stroke-width="0.8"/>
<path d="M217 650.5l3 -1.7M218 653l4.5 -2.6M218.5 654l0 -2 M222.5 648.5l4 -2.3M223.5 651l4 -2.3M226 649.6l0 1.8" fill="none" stroke-width="0.7"/>
<g transform="translate(254.5 650) rotate(-30)">
<path d="M0 -8.2L5 -8.2A4.7 8.2 0 0 1 5 8.2L0 8.2Z" fill="#fff" stroke-width="1.0"/>
<ellipse cx="0" cy="0" rx="4.7" ry="8.2" fill="#fff" stroke-width="1.0"/>
<ellipse cx="0" cy="0" rx="2.4" ry="4.2" fill="#fff" stroke-width="1.1"/>
<ellipse cx="0.5" cy="0" rx="1.6" ry="2.8" fill="none" stroke-width="0.6"/>
</g>
<g transform="translate(200 680.5) rotate(-30)">
<path d="M0 -12.5L5 -12.5A7.2 12.5 0 0 1 5 12.5L0 12.5Z" fill="#fff" stroke-width="1.0"/>
<ellipse cx="0" cy="0" rx="7.2" ry="12.5" fill="#fff" stroke-width="1.0"/>
</g>
<g transform="translate(191 685.4) rotate(-30)">
<path d="M0 -9.4L10 -9.4A5.4 9.4 0 0 1 10 9.4L0 9.4Z" fill="#fff" stroke-width="1.1"/>
<ellipse cx="0" cy="0" rx="5.4" ry="9.4" fill="#fff" stroke-width="1.1"/>
<path d="M1.2 -9.2A5.3 9.2 0 0 1 1.2 9.2" fill="none" stroke-width="0.8"/>
</g>
<g transform="translate(300 711.35) rotate(30)">
<path d="M-56 -22.2L-73.5 -22.2A12.8 22.2 0 0 0 -73.5 22.2L-56 22.2Z" fill="#fff" stroke="none"/>
<path d="M-56 -22.2L-73.5 -22.2A12.8 22.2 0 0 0 -73.5 22.2L-56 22.2" fill="none" stroke-width="1.1"/>
<path d="M-73.5 -22.2A12.8 22.2 0 0 0 -73.5 22.2" fill="none" stroke-width="1.1"/>
<path d="M-71.5 -21.8A12.6 21.8 0 0 0 -71.5 21.8" fill="none" stroke-width="0.8"/>
<path d="M-69.5 -21.4A12.3 21.4 0 0 0 -69.5 21.4" fill="none" stroke-width="1.0"/>
<path d="M85 -20.7L-50.6 -20.7A11.9 20.7 0 0 0 -50.6 20.7L85 20.7Z" fill="#fff" stroke="none"/>
<path d="M85 -20.7L-50.6 -20.7A11.9 20.7 0 0 0 -50.6 20.7L85 20.7" fill="none" stroke-width="1.1"/>
<path d="M-50.6 -20.7A11.9 20.7 0 0 0 -50.6 20.7" fill="none" stroke-width="1.0"/>
</g>
<g transform="translate(398.7 719.1) scale(0.8) translate(-909.5 -416.8)">
<path d="M881.7 431.8L906.3 417.6Q909.5 415.9 912.7 417.6L929.5 427.3Q933.3 429.5 933.3 434L933.3 472Q933.3 476.3 929.5 478.5L886.2 504.2L868.8 494.8C861 491 855 484 855 474L855 466C855 452 862 442 869.8 438.3Z" fill="#fff" stroke-width="1.1"/>
<path d="M869.8 445.2L886.2 454.1L930.6 428.3M886.2 454.1L886.2 504.2" fill="none" stroke-width="1.1"/>
<path d="M869.8 445.2C866 458 865.5 480 868.8 494.8" fill="none" stroke-width="1.0"/>
<path d="M866.5 442C860 452 858.5 478 864.5 491" fill="none" stroke-width="0.7"/>
<ellipse cx="876.8" cy="459.3" rx="5" ry="8.7" transform="rotate(-30 876.8 459.3)" fill="#fff" stroke-width="1.1"/>
<ellipse cx="876.8" cy="488.3" rx="5" ry="8.7" transform="rotate(-30 876.8 488.3)" fill="#fff" stroke-width="1.1"/>
<ellipse cx="871.8" cy="471.2" rx="2.5" ry="4.4" transform="rotate(-30 871.8 471.2)" fill="#fff" stroke-width="1.1"/>
<ellipse cx="881.2" cy="476.5" rx="2.5" ry="4.4" transform="rotate(-30 881.2 476.5)" fill="#fff" stroke-width="1.1"/>

<g clip-path="url(#ph0)"><ellipse cx="878.6999999999999" cy="458.2" rx="5" ry="8.7" transform="rotate(-30 878.6999999999999 458.2)" fill="none" stroke-width="1.6"/><ellipse cx="879.5999999999999" cy="457.7" rx="5" ry="8.7" transform="rotate(-30 879.5999999999999 457.7)" fill="none" stroke-width="0.7"/></g>

<g clip-path="url(#ph1)"><ellipse cx="878.6999999999999" cy="487.2" rx="5" ry="8.7" transform="rotate(-30 878.6999999999999 487.2)" fill="none" stroke-width="1.6"/><ellipse cx="879.5999999999999" cy="486.7" rx="5" ry="8.7" transform="rotate(-30 879.5999999999999 486.7)" fill="none" stroke-width="0.7"/></g>
<ellipse cx="881" cy="442.7" rx="2.6" ry="1.5" fill="#fff" stroke-width="0.9"/>
<ellipse cx="895.3" cy="442.5" rx="5.2" ry="3" fill="#fff" stroke-width="1.0"/><ellipse cx="895.3" cy="443.3" rx="3.4" ry="1.7" fill="none" stroke-width="0.8"/>
<ellipse cx="915" cy="431.3" rx="5.0" ry="3" fill="#fff" stroke-width="1.0"/><ellipse cx="915" cy="432.1" rx="3.3" ry="1.7" fill="none" stroke-width="0.8"/>
<ellipse cx="888.2" cy="456.1" rx="1.2" ry="1.9" transform="rotate(30 888.2 456.1)" fill="#fff" stroke-width="0.8"/>
<ellipse cx="927.1" cy="433.8" rx="1.2" ry="1.9" transform="rotate(30 927.1 433.8)" fill="#fff" stroke-width="0.8"/>
<ellipse cx="927.1" cy="476.9" rx="1.2" ry="1.9" transform="rotate(30 927.1 476.9)" fill="#fff" stroke-width="0.8"/>
</g>
</g>
<g transform="translate(314.5 786) rotate(-30)">
<path d="M3.5 -8.2L7 -8.2A4.7 8.2 0 0 1 7 8.2L3.5 8.2Z" fill="#fff" stroke-width="1.1"/>
<ellipse cx="3.5" cy="0" rx="4.7" ry="8.2" fill="#fff" stroke-width="1.1"/>
<path d="M0 -7.2L3.5 -7.2A4.2 7.2 0 0 1 3.5 7.2L0 7.2Z" fill="#fff" stroke-width="1.1"/>
<ellipse cx="0" cy="0" rx="4.2" ry="7.2" fill="#fff" stroke-width="1.1"/>
<path d="M-2.5 -1.5L1.5 -0.5M-1 3L1 5.5M0 -5L-1 -3" fill="none" stroke-width="0.7"/>
</g>
<g transform="translate(314.5 808.5) rotate(-30)">
<path d="M3.5 -8.2L7 -8.2A4.7 8.2 0 0 1 7 8.2L3.5 8.2Z" fill="#fff" stroke-width="1.1"/>
<ellipse cx="3.5" cy="0" rx="4.7" ry="8.2" fill="#fff" stroke-width="1.1"/>
<path d="M0 -7.2L3.5 -7.2A4.2 7.2 0 0 1 3.5 7.2L0 7.2Z" fill="#fff" stroke-width="1.1"/>
<ellipse cx="0" cy="0" rx="4.2" ry="7.2" fill="#fff" stroke-width="1.1"/>
<path d="M-2.5 -1.5L1.5 -0.5M-1 3L1 5.5M0 -5L-1 -3" fill="none" stroke-width="0.7"/>
</g>
<g transform="translate(332.6 782.4) rotate(-30)">
<path d="M0 -4.6L4.5 -4.6A2.7 4.6 0 0 1 4.5 4.6L0 4.6Z" fill="#fff" stroke-width="1.0"/>
<ellipse cx="0" cy="0" rx="2.7" ry="4.6" fill="#fff" stroke-width="1.0"/>
<ellipse cx="0" cy="0" rx="1.6" ry="2.8" fill="none" stroke-width="0.8"/>
<circle cx="0" cy="0" r="0.8" fill="none" stroke-width="0.6"/>
</g>
<g transform="translate(341.2 787) rotate(-30)">
<path d="M0 -4.6L4.5 -4.6A2.7 4.6 0 0 1 4.5 4.6L0 4.6Z" fill="#fff" stroke-width="1.0"/>
<ellipse cx="0" cy="0" rx="2.7" ry="4.6" fill="#fff" stroke-width="1.0"/>
<ellipse cx="0" cy="0" rx="1.6" ry="2.8" fill="none" stroke-width="0.8"/>
<circle cx="0" cy="0" r="0.8" fill="none" stroke-width="0.6"/>
</g>
<ellipse cx="344.5" cy="776.4" rx="2.9" ry="3.4" transform="rotate(-30 344.5 776.4)" fill="#000" stroke="none"/>
<ellipse cx="351.8" cy="780.4" rx="2.9" ry="3.4" transform="rotate(-30 351.8 780.4)" fill="#000" stroke="none"/>
<line x1="324.5" y1="780.5" x2="370" y2="754" stroke="#e8d200" stroke-width="1.1"/>
<line x1="337" y1="779.6" x2="365.5" y2="763" stroke="#e8d200" stroke-width="1.1"/>
<line x1="346" y1="784.8" x2="373.5" y2="768.5" stroke="#e8d200" stroke-width="1.1"/>
<line x1="324.5" y1="803" x2="370" y2="776.5" stroke="#e8d200" stroke-width="1.1"/>
<g transform="translate(284.5 1028.5) scale(0.77) translate(-771.5 -519)">
<g transform="translate(771.5 519) rotate(-30)">
<path d="M33 -7.3L56.5 -7.3A4.2 7.3 0 0 1 56.5 7.3L33 7.3Z" fill="#fff" stroke="none"/>
<path d="M33 -7.3L56.5 -7.3A4.2 7.3 0 0 1 56.5 7.3L33 7.3" fill="none" stroke-width="1.1"/>
<path d="M53.5 -7.3A4.2 7.3 0 0 1 53.5 7.3" fill="none" stroke-width="1.3"/>
<path d="M52 -7.3A4.2 7.3 0 0 1 52 7.3" fill="none" stroke-width="0.7"/>
<path d="M45.5 -7.3A4.2 7.3 0 0 1 45.5 7.3" fill="none" stroke-width="1.5"/>
<path d="M42 -7.3A4.2 7.3 0 0 1 42 7.3" fill="none" stroke-width="1.5"/>
<path d="M38.5 -7.3A4.2 7.3 0 0 1 38.5 7.3" fill="none" stroke-width="1.5"/>
<path d="M28 -9.8L34 -7.3L34 7.3L28 9.8Z" fill="#fff" stroke-width="1.0"/>
<path d="M34 -7.3A4.2 7.3 0 0 1 34 7.3" fill="none" stroke-width="1.1"/>
<path d="M10 -9.8L28 -9.8A5.7 9.8 0 0 1 28 9.8L10 9.8Z" fill="#fff" stroke="none"/>
<path d="M10 -9.8L28 -9.8A5.7 9.8 0 0 1 28 9.8L10 9.8" fill="none" stroke-width="1.1"/>
<path d="M10 -5L27.5 -5M10 5L27.5 5" fill="none" stroke-width="0.8"/>
<path d="M28 -9.8A5.7 9.8 0 0 1 28 9.8" fill="none" stroke-width="1.0"/>
<ellipse cx="10" cy="0" rx="5.7" ry="9.8" fill="#fff" stroke-width="1.1"/>
<ellipse cx="9.6" cy="0" rx="4.8" ry="8.3" fill="none" stroke-width="1.4"/>
<ellipse cx="9" cy="0" rx="3.8" ry="6.6" fill="#fff" stroke-width="1.0"/>
<path d="M4.5 -4.4L9 -4.4A2.5 4.4 0 0 1 9 4.4L4.5 4.4Z" fill="#fff" stroke-width="1.1"/>
<ellipse cx="4.5" cy="0" rx="2.5" ry="4.4" fill="#fff" stroke-width="1.1"/>
<path d="M4.5 -2.2L4.5 2.2" fill="none" stroke-width="0.6"/>
<path d="M0.5 -2.6L4.5 -2.6A1.5 2.6 0 0 1 4.5 2.6L0.5 2.6Z" fill="#fff" stroke-width="1.5"/>
<ellipse cx="0.5" cy="0" rx="1.5" ry="2.6" fill="#fff" stroke-width="1.5"/>
</g>
</g>
<g transform="translate(284.5 1051.3) scale(0.77) translate(-771.5 -519)">
<g transform="translate(771.5 519) rotate(-30)">
<path d="M33 -7.3L56.5 -7.3A4.2 7.3 0 0 1 56.5 7.3L33 7.3Z" fill="#fff" stroke="none"/>
<path d="M33 -7.3L56.5 -7.3A4.2 7.3 0 0 1 56.5 7.3L33 7.3" fill="none" stroke-width="1.1"/>
<path d="M53.5 -7.3A4.2 7.3 0 0 1 53.5 7.3" fill="none" stroke-width="1.3"/>
<path d="M52 -7.3A4.2 7.3 0 0 1 52 7.3" fill="none" stroke-width="0.7"/>
<path d="M45.5 -7.3A4.2 7.3 0 0 1 45.5 7.3" fill="none" stroke-width="1.5"/>
<path d="M42 -7.3A4.2 7.3 0 0 1 42 7.3" fill="none" stroke-width="1.5"/>
<path d="M38.5 -7.3A4.2 7.3 0 0 1 38.5 7.3" fill="none" stroke-width="1.5"/>
<path d="M28 -9.8L34 -7.3L34 7.3L28 9.8Z" fill="#fff" stroke-width="1.0"/>
<path d="M34 -7.3A4.2 7.3 0 0 1 34 7.3" fill="none" stroke-width="1.1"/>
<path d="M10 -9.8L28 -9.8A5.7 9.8 0 0 1 28 9.8L10 9.8Z" fill="#fff" stroke="none"/>
<path d="M10 -9.8L28 -9.8A5.7 9.8 0 0 1 28 9.8L10 9.8" fill="none" stroke-width="1.1"/>
<path d="M10 -5L27.5 -5M10 5L27.5 5" fill="none" stroke-width="0.8"/>
<path d="M28 -9.8A5.7 9.8 0 0 1 28 9.8" fill="none" stroke-width="1.0"/>
<ellipse cx="10" cy="0" rx="5.7" ry="9.8" fill="#fff" stroke-width="1.1"/>
<ellipse cx="9.6" cy="0" rx="4.8" ry="8.3" fill="none" stroke-width="1.4"/>
<ellipse cx="9" cy="0" rx="3.8" ry="6.6" fill="#fff" stroke-width="1.0"/>
<path d="M4.5 -4.4L9 -4.4A2.5 4.4 0 0 1 9 4.4L4.5 4.4Z" fill="#fff" stroke-width="1.1"/>
<ellipse cx="4.5" cy="0" rx="2.5" ry="4.4" fill="#fff" stroke-width="1.1"/>
<path d="M4.5 -2.2L4.5 2.2" fill="none" stroke-width="0.6"/>
<path d="M0.5 -2.6L4.5 -2.6A1.5 2.6 0 0 1 4.5 2.6L0.5 2.6Z" fill="#fff" stroke-width="1.5"/>
<ellipse cx="0.5" cy="0" rx="1.5" ry="2.6" fill="#fff" stroke-width="1.5"/>
</g>
</g>
<g transform="translate(333.6 1008.2) rotate(-30)">
<path d="M0 -4.6L4.5 -4.6A2.7 4.6 0 0 1 4.5 4.6L0 4.6Z" fill="#fff" stroke-width="1.0"/>
<ellipse cx="0" cy="0" rx="2.7" ry="4.6" fill="#fff" stroke-width="1.0"/>
<ellipse cx="0" cy="0" rx="1.6" ry="2.8" fill="none" stroke-width="0.8"/>
<circle cx="0" cy="0" r="0.8" fill="none" stroke-width="0.6"/>
</g>
<g transform="translate(341 1012.5) rotate(-30)">
<path d="M0 -4.6L4.5 -4.6A2.7 4.6 0 0 1 4.5 4.6L0 4.6Z" fill="#fff" stroke-width="1.0"/>
<ellipse cx="0" cy="0" rx="2.7" ry="4.6" fill="#fff" stroke-width="1.0"/>
<ellipse cx="0" cy="0" rx="1.6" ry="2.8" fill="none" stroke-width="0.8"/>
<circle cx="0" cy="0" r="0.8" fill="none" stroke-width="0.6"/>
</g>
<line x1="325" y1="1006" x2="370" y2="980" stroke="#e8d200" stroke-width="1.1"/>
<line x1="338" y1="1005.5" x2="365.5" y2="989" stroke="#e8d200" stroke-width="1.1"/>
<line x1="346" y1="1010.5" x2="373.5" y2="994.5" stroke="#e8d200" stroke-width="1.1"/>
<line x1="325" y1="1028.5" x2="370" y2="1002.5" stroke="#e8d200" stroke-width="1.1"/>
<g>
<g transform="translate(770.5 878.8) rotate(-30)">
<path d="M0 -21.5L11 -21.5A12.4 21.5 0 0 1 11 21.5L0 21.5Z" fill="#fff" stroke-width="1.0"/>
<ellipse cx="0" cy="0" rx="12.4" ry="21.5" fill="#fff" stroke-width="1.0"/>
<path d="M1.5 -21.2A12.4 21.2 0 0 1 1.5 21.2" fill="none" stroke-width="0.6"/>
<ellipse cx="0" cy="0" rx="6.6" ry="11.5" fill="#fff" stroke-width="1.3"/>
<ellipse cx="0" cy="0" rx="5.7" ry="9.9" fill="none" stroke-width="0.8"/>
<path d="M2 -10.0A5.8 10.0 0 0 1 2 10.0" fill="none" stroke-width="0.7"/>
<path d="M3.5 -9.0A5.2 9.0 0 0 1 3.5 9.0" fill="none" stroke-width="0.7"/>
</g>
<g transform="translate(883.2 936.75) rotate(30)">
<path d="M-70.6 -24.5L-100 -24.5A14.1 24.5 0 0 0 -100 24.5L-70.6 24.5Z" fill="#fff" stroke-width="1.1"/>
<ellipse cx="-70.6" cy="0" rx="14.1" ry="24.5" fill="#fff" stroke-width="1.1"/>
<path d="M-97.5 -24.3A14 24.3 0 0 0 -97.5 24.3" fill="none" stroke-width="0.8"/>
<path d="M-95.5 -24.1A13.9 24.1 0 0 0 -95.5 24.1" fill="none" stroke-width="1.0"/>
</g>
<path d="M826.5 867.8L836 873L846 872L846 885L836 886L826.5 880Z" fill="#fff" stroke-width="1.0"/>
<path d="M826.5 867.8L833 866.5L848 875" fill="none" stroke-width="1.0"/>
<g transform="translate(847 880) rotate(-30)">
<path d="M0 -7.2L5 -7.2A4.2 7.2 0 0 1 5 7.2L0 7.2Z" fill="#fff" stroke-width="1.0"/>
<ellipse cx="0" cy="0" rx="4.2" ry="7.2" fill="#fff" stroke-width="1.0"/>
<ellipse cx="0" cy="0" rx="2.1" ry="3.6" fill="#fff" stroke-width="1.0"/>
</g>
<path d="M799.7 908.5L804.8 905.5L804.8 915L799.7 918Z" fill="#fff" stroke-width="0.9"/>
<g transform="translate(789.5 909) rotate(-30)">
<path d="M0 -13L5 -13A7.5 13 0 0 1 5 13L0 13Z" fill="#fff" stroke-width="1.0"/>
<ellipse cx="0" cy="0" rx="7.5" ry="13" fill="#fff" stroke-width="1.0"/>
</g>
<g transform="translate(780.7 913.8) rotate(-30)">
<path d="M0 -10.5L9 -10.5A6.1 10.5 0 0 1 9 10.5L0 10.5Z" fill="#fff" stroke-width="1.1"/>
<ellipse cx="0" cy="0" rx="6.1" ry="10.5" fill="#fff" stroke-width="1.1"/>
<path d="M1.2 -10.3A6 10.3 0 0 1 1.2 10.3" fill="none" stroke-width="0.8"/>
<circle cx="0" cy="0" r="0.9" fill="#000" stroke="none"/>
</g>
<g transform="translate(883.2 936.75) rotate(30)">
<path d="M85 -21.4L-70.6 -21.4A12.3 21.4 0 0 0 -70.6 21.4L85 21.4Z" fill="#fff" stroke="none"/>
<path d="M85 -21.4L-70.6 -21.4A12.3 21.4 0 0 0 -70.6 21.4L85 21.4" fill="none" stroke-width="1.1"/>
<path d="M-70.6 -21.4A12.3 21.4 0 0 0 -70.6 21.4" fill="none" stroke-width="1.0"/>
<path d="M-68.5 -21.2A12.2 21.2 0 0 0 -68.5 21.2" fill="none" stroke-width="0.8"/>
</g>
<g transform="translate(982.9 945.5) scale(0.8) translate(-909.5 -416.8)">
<path d="M881.7 431.8L906.3 417.6Q909.5 415.9 912.7 417.6L929.5 427.3Q933.3 429.5 933.3 434L933.3 472Q933.3 476.3 929.5 478.5L886.2 504.2L868.8 494.8C861 491 855 484 855 474L855 466C855 452 862 442 869.8 438.3Z" fill="#fff" stroke-width="1.1"/>
<path d="M869.8 445.2L886.2 454.1L930.6 428.3M886.2 454.1L886.2 504.2" fill="none" stroke-width="1.1"/>
<path d="M869.8 445.2C866 458 865.5 480 868.8 494.8" fill="none" stroke-width="1.0"/>
<path d="M866.5 442C860 452 858.5 478 864.5 491" fill="none" stroke-width="0.7"/>
<ellipse cx="876.8" cy="459.3" rx="5" ry="8.7" transform="rotate(-30 876.8 459.3)" fill="#fff" stroke-width="1.1"/>
<ellipse cx="876.8" cy="488.3" rx="5" ry="8.7" transform="rotate(-30 876.8 488.3)" fill="#fff" stroke-width="1.1"/>
<ellipse cx="871.8" cy="471.2" rx="2.5" ry="4.4" transform="rotate(-30 871.8 471.2)" fill="#fff" stroke-width="1.1"/>
<ellipse cx="881.2" cy="476.5" rx="2.5" ry="4.4" transform="rotate(-30 881.2 476.5)" fill="#fff" stroke-width="1.1"/>

<g clip-path="url(#ph0)"><ellipse cx="878.6999999999999" cy="458.2" rx="5" ry="8.7" transform="rotate(-30 878.6999999999999 458.2)" fill="none" stroke-width="1.6"/><ellipse cx="879.5999999999999" cy="457.7" rx="5" ry="8.7" transform="rotate(-30 879.5999999999999 457.7)" fill="none" stroke-width="0.7"/></g>

<g clip-path="url(#ph1)"><ellipse cx="878.6999999999999" cy="487.2" rx="5" ry="8.7" transform="rotate(-30 878.6999999999999 487.2)" fill="none" stroke-width="1.6"/><ellipse cx="879.5999999999999" cy="486.7" rx="5" ry="8.7" transform="rotate(-30 879.5999999999999 486.7)" fill="none" stroke-width="0.7"/></g>
<ellipse cx="881" cy="442.7" rx="2.6" ry="1.5" fill="#fff" stroke-width="0.9"/>
<ellipse cx="895.3" cy="442.5" rx="5.2" ry="3" fill="#fff" stroke-width="1.0"/><ellipse cx="895.3" cy="443.3" rx="3.4" ry="1.7" fill="none" stroke-width="0.8"/>
<ellipse cx="915" cy="431.3" rx="5.0" ry="3" fill="#fff" stroke-width="1.0"/><ellipse cx="915" cy="432.1" rx="3.3" ry="1.7" fill="none" stroke-width="0.8"/>
<ellipse cx="888.2" cy="456.1" rx="1.2" ry="1.9" transform="rotate(30 888.2 456.1)" fill="#fff" stroke-width="0.8"/>
<ellipse cx="927.1" cy="433.8" rx="1.2" ry="1.9" transform="rotate(30 927.1 433.8)" fill="#fff" stroke-width="0.8"/>
<ellipse cx="927.1" cy="476.9" rx="1.2" ry="1.9" transform="rotate(30 927.1 476.9)" fill="#fff" stroke-width="0.8"/>
</g>
</g>
<line x1="345.9" y1="662.6" x2="315.1" y2="685.4" stroke="#000" stroke-width="1"/>
<path d="M307.5 691.1L313.6 683.4L316.7 687.5Z" fill="#000" stroke="none"/>
<line x1="291" y1="766.5" x2="302.5" y2="773.1" stroke="#000" stroke-width="1"/>
<path d="M310.7 777.8L301.2 775.3L303.8 770.8Z" fill="#000" stroke="none"/>
<line x1="382.5" y1="799" x2="358.9" y2="785.5" stroke="#000" stroke-width="1"/>
<path d="M350.7 780.8L360.2 783.3L357.7 787.8Z" fill="#000" stroke="none"/>
<line x1="369.6" y1="806.5" x2="352.2" y2="796.2" stroke="#000" stroke-width="1"/>
<path d="M344 791.4L353.5 794L350.9 798.5Z" fill="#000" stroke="none"/>
<line x1="345" y1="889.5" x2="315.8" y2="911.1" stroke="#000" stroke-width="1"/>
<path d="M308.2 916.8L314.3 909.1L317.4 913.2Z" fill="#000" stroke="none"/>
<line x1="279.8" y1="993.7" x2="299" y2="1004.8" stroke="#000" stroke-width="1"/>
<path d="M307.2 1009.6L297.7 1007.1L300.3 1002.6Z" fill="#000" stroke="none"/>
<line x1="369.5" y1="1032.5" x2="351.1" y2="1022" stroke="#000" stroke-width="1"/>
<path d="M342.8 1017.3L352.3 1019.7L349.8 1024.3Z" fill="#000" stroke="none"/>
<line x1="955.4" y1="884" x2="908.7" y2="916.8" stroke="#000" stroke-width="1"/>
<path d="M900.9 922.3L907.2 914.7L910.2 919Z" fill="#000" stroke="none"/>
</g>
</svg></body></html>
